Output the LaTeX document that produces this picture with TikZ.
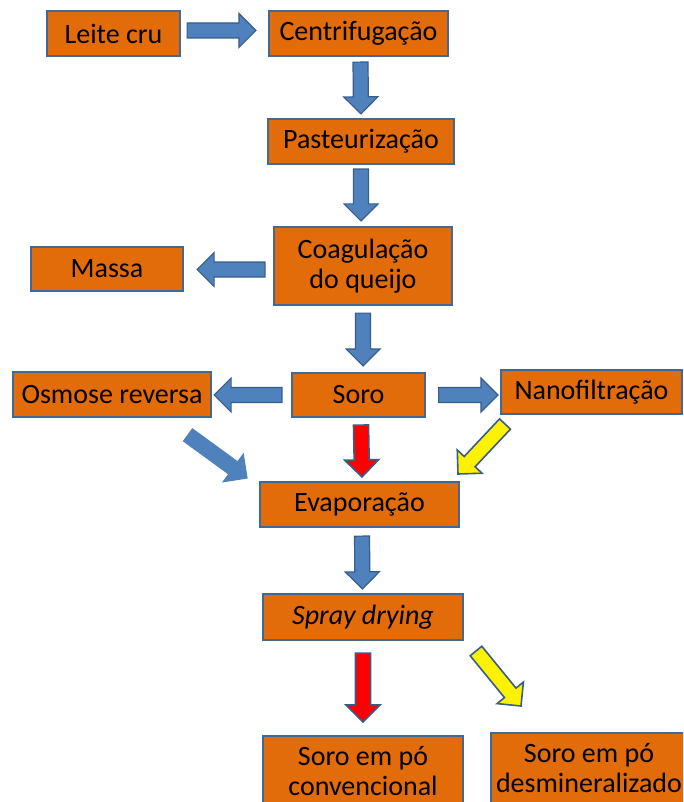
\documentclass[tikz,border=0pt]{standalone}
\usepackage{fontspec}
\setmainfont{Carlito}
\usetikzlibrary{calc}
\definecolor{boxfill}{RGB}{226,107,10}
\definecolor{boxline}{RGB}{66,104,150}
\definecolor{arrfill}{RGB}{79,129,189}
\definecolor{arrline}{RGB}{56,93,138}
\tikzset{
  procbox/.style={draw=boxline, line width=2.2pt, fill=boxfill, inner sep=0pt,
    font=\fontsize{28}{30}\selectfont, text=black, align=center},
  bluearr/.style={fill=arrfill, draw=arrline, line width=1.2pt, line join=miter},
  redarr/.style={fill=red, draw=arrline, line width=1.6pt, line join=miter},
  yelarr/.style={fill=yellow, draw=arrline, line width=1.6pt, line join=miter},
}
% block arrow: #1 style, #2 start coordinate name, #3 end coordinate name
\newcommand\blockarrow[3]{%
  \draw[#1] ($(#2)!7.5pt!90:(#3)$) -- ($($(#3)!17pt!(#2)$)!7.5pt!-90:(#2)$)
    -- ($($(#3)!17pt!(#2)$)!17pt!-90:(#2)$) -- (#3)
    -- ($($(#3)!17pt!(#2)$)!17pt!90:(#2)$)
    -- ($($(#3)!17pt!(#2)$)!7.5pt!90:(#2)$)
    -- ($(#2)!7.5pt!-90:(#3)$) -- cycle;}
\begin{document}
\begin{tikzpicture}[x=1pt,y=-1pt]
\useasboundingbox (0,0) rectangle (683,802);
\begin{scope}
\clip (0,0) rectangle (683,802);
\node[procbox, minimum width=133pt, minimum height=45pt] (leite) at (113.5,33.5) {Leite cru};
\node[procbox, minimum width=179pt, minimum height=45pt] (centri) at (358.5,33.5) {Centrifugação};
\node[procbox, minimum width=186pt, minimum height=45pt] (pasteur) at (361,141.5) {Pasteurização};
\node[procbox, minimum width=178pt, minimum height=78pt] (coag) at (363,266) {Coagulação\\do queijo};
\node[procbox, minimum width=152pt, minimum height=44pt] (massa) at (107,269) {Massa};
\node[procbox, minimum width=198pt, minimum height=45pt] (osmose) at (112,394.5) {Osmose reversa};
\node[procbox, minimum width=133pt, minimum height=44pt] (soro) at (358.5,395) {Soro};
\node[procbox, minimum width=181pt, minimum height=44pt] (nano) at (591.5,392) {Nanofiltração};
\node[procbox, minimum width=199pt, minimum height=45pt] (evap) at (359.5,504.5) {Evaporação};
\node[procbox, minimum width=200pt, minimum height=46pt] (spray) at (363,617) {\itshape Spray drying};
\node[procbox, minimum width=200pt, minimum height=70pt] (conv) at (363,771) {Soro em pó\\convencional};
\node[procbox, minimum width=196pt, minimum height=70pt] (desm) at (589,768) {Soro em pó\\desmineralizado};

% arrow end points
\coordinate (a1s) at ($(leite.east)+(6,-3)$);   \coordinate (a1e) at ($(centri.west)+(-12,-3)$);
\coordinate (a2s) at ($(centri.south)+(2,5)$);  \coordinate (a2e) at ($(pasteur.north)+(0,-4)$);
\coordinate (a3s) at ($(pasteur.south)+(0,4)$); \coordinate (a3e) at ($(coag.north)+(-2,-5)$);
\coordinate (a4s) at ($(coag.west)+(-8,3.5)$);  \coordinate (a4e) at ($(massa.east)+(13,0.5)$);
\coordinate (a5s) at ($(coag.south)+(0,7)$);    \coordinate (a5e) at ($(soro.north)+(4.5,-6)$);
\coordinate (a6s) at ($(soro.west)+(-9,0)$);    \coordinate (a6e) at ($(osmose.east)+(2,0.5)$);
\coordinate (a7s) at ($(soro.east)+(12.5,0)$);  \coordinate (a7e) at ($(nano.west)+(-2,3)$);
\coordinate (a8s) at ($(soro.south)+(2.5,7)$);  \coordinate (a8e) at ($(evap.north)+(2.5,-4)$);
\coordinate (a9s) at (188,435);                 \coordinate (a9e) at (247,478);
\coordinate (a10s) at (505,424);                \coordinate (a10e) at (458,474);
\coordinate (a11s) at ($(evap.south)+(2.5,8)$); \coordinate (a11e) at ($(spray.north)+(-0.5,-4)$);
\coordinate (a12s) at ($(spray.south)+(0,12)$); \coordinate (a12e) at ($(conv.north)+(0,-13)$);
\coordinate (a13s) at (476,651);                \coordinate (a13e) at (521,706);

\blockarrow{bluearr}{a1s}{a1e}
\blockarrow{bluearr}{a2s}{a2e}
\blockarrow{bluearr}{a3s}{a3e}
\blockarrow{bluearr}{a4s}{a4e}
\blockarrow{bluearr}{a5s}{a5e}
\blockarrow{bluearr}{a6s}{a6e}
\blockarrow{bluearr}{a7s}{a7e}
\blockarrow{redarr}{a8s}{a8e}
\blockarrow{bluearr,draw=arrfill}{a9s}{a9e}
\blockarrow{yelarr}{a10s}{a10e}
\blockarrow{bluearr}{a11s}{a11e}
\blockarrow{redarr}{a12s}{a12e}
\blockarrow{yelarr}{a13s}{a13e}
\end{scope}
\end{tikzpicture}
\end{document}
